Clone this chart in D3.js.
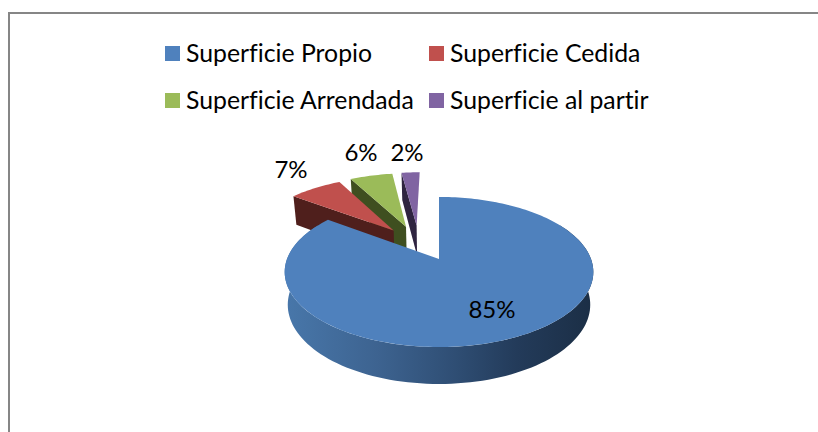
<!DOCTYPE html>
<html><head><meta charset="utf-8">
<script src="https://cdn.jsdelivr.net/npm/d3@7/dist/d3.min.js"></script>
<style>html,body{margin:0;background:#fff}svg{display:block}text{font-family:Lato,"Open Sans",sans-serif;fill:#000;font-variant-ligatures:none}</style>
</head><body><svg id="c" width="818" height="432"></svg>
<script>
const categories = ["Superficie Propio","Superficie Cedida","Superficie Arrendada","Superficie al partir"];
const values = [85.1,6.9,5.6,2.4];
const colors = ["#4f81bd","#c0504d","#9bbb59","#8064a2"];
const sideColors = ["#1c3048","#4f1f1c","#3f4f20","#2f2440"];
const offsets = [[0,0],[-0.32,0.42],[-0.235,0.48],[-0.16,0.50]];
const labelPos = [[492,318],[291,178],[361,161],[407,161]];
const legendPos = [[165,46],[429,46],[165,93],[429,93]];

const svg = d3.select("#c");
const cx=439, cy=259, a=152, b=72.8, k=0.173, D=32, shrink=0.98;
const top3=(u,v)=>{const w=1+k*v;return [cx+a*u/w, cy-b*v/w];};
const bot3=(u,v)=>{const w=1+k*v;return [cx+a*shrink*u/w, cy-b*shrink*v/w+D/w];};
const line=d3.line();
const arcs=d3.pie().sort(null).value(d=>d)(values);
const fmt=d3.format(".0f");

const defs=svg.append("defs");
const g=defs.append("linearGradient").attr("id","rim").attr("gradientUnits","userSpaceOnUse")
  .attr("x1",285).attr("x2",594).attr("y1",0).attr("y2",0);
[[0,"#4877aa"],[0.3,"#3d6390"],[0.55,"#2f4e74"],[0.75,"#233b5a"],[1,"#1b2e45"]].forEach(s=>g.append("stop").attr("offset",s[0]).attr("stop-color",s[1]));

svg.append("path").attr("d",line([[9,432],[9,13],[818,13]])).attr("fill","none").attr("stroke","#868686").attr("stroke-width",2);

function sector(arc,off,proj){
  const pts=[proj(off[0],off[1])];
  const n=Math.max(8,Math.ceil((arc.endAngle-arc.startAngle)*40));
  d3.range(n+1).forEach(i=>{const t=arc.startAngle+(arc.endAngle-arc.startAngle)*i/n;
    pts.push(proj(off[0]+Math.sin(t),off[1]+Math.cos(t)));});
  return pts;
}
[3,2,1].forEach(i=>{
  const arc=arcs[i],o=offsets[i];
  const t=arc.startAngle,su=o[0]+Math.sin(t),sv=o[1]+Math.cos(t);
  svg.append("path").attr("d",line([top3(su,sv),top3(o[0],o[1]),bot3(o[0],o[1]),bot3(su,sv)])+"Z").attr("fill",sideColors[i]);
  svg.append("path").attr("d",line(sector(arc,o,top3))+"Z").attr("fill",colors[i]);
});
const rimT=d3.range(60,301,2).map(d=>d*Math.PI/180);
const rimTop=rimT.map(t=>top3(Math.sin(t),Math.cos(t)));
const rimBot=rimT.map(t=>bot3(Math.sin(t),Math.cos(t))).reverse();
svg.append("path").attr("d",line(rimTop.concat(rimBot))+"Z").attr("fill","url(#rim)");
svg.append("path").attr("d",line(sector(arcs[0],offsets[0],top3))+"Z").attr("fill",colors[0]);

labelPos.forEach((p,i)=>svg.append("text").attr("x",p[0]).attr("y",p[1]).attr("text-anchor","middle").attr("font-size",24).text(fmt(values[i])+"%"));
categories.forEach((c,i)=>{
  const p=legendPos[i];
  svg.append("rect").attr("x",p[0]).attr("y",p[1]).attr("width",15).attr("height",15).attr("fill",colors[i]);
  svg.append("text").attr("x",p[0]+21).attr("y",p[1]+16).attr("font-size",24.8).text(c);
});
</script></body></html>
